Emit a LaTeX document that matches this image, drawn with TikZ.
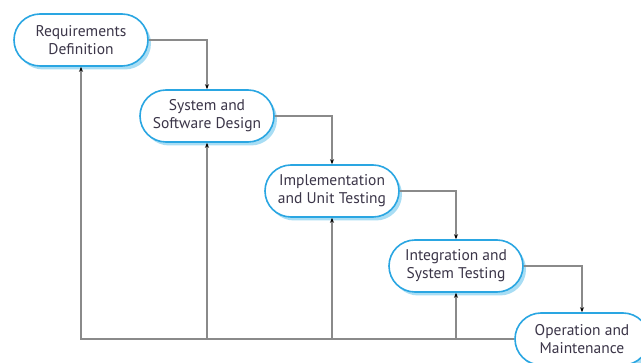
\documentclass[tikz,border=0pt]{standalone}
\usepackage{fontspec}
\setmainfont{PT Sans}
\usetikzlibrary{arrows.meta,shadows}
\definecolor{boxblue}{HTML}{2AA6E2}
\definecolor{shadowblue}{HTML}{A8DDF4}
\definecolor{txt}{HTML}{3B3548}
\definecolor{linegray}{HTML}{8A8A8A}
\tikzset{
  phase/.style={draw=boxblue, line width=1.6pt, fill=white, rounded corners=26pt,
    minimum width=134pt, minimum height=52pt, align=center, text=txt,
    font=\fontsize{15.5pt}{18pt}\selectfont, inner sep=1pt,
    drop shadow={shadow xshift=3pt, shadow yshift=-3.5pt, fill=shadowblue, opacity=1}},
  flow/.style={draw=linegray, line width=1.1pt,
    -{Stealth[length=5pt,width=4pt,color=black]}}
}
\begin{document}
\begin{tikzpicture}[x=1pt,y=-1pt]
\useasboundingbox (0,0) rectangle (641,363);
\node[phase] (b1) at (81,40) {Requirements\\Definition};
\node[phase] (b2) at (207,116) {System and\\Software Design};
\node[phase] (b3) at (332,191) {Implementation\\and Unit Testing};
\node[phase] (b4) at (456,266) {Integration and\\System Testing};
\node[phase] (b5) at (582,339) {Operation and\\Maintenance};
\draw[flow] (b1.east) -| (b2.north);
\draw[flow] (b2.east) -| (b3.north);
\draw[flow] (b3.east) -| (b4.north);
\draw[flow] (b4.east) -| (b5.north);
\draw[flow] (b5.west) -| (b1.south);
\draw[flow] (b2.south |- b5.west) -- (b2.south);
\draw[flow] (b3.south |- b5.west) -- (b3.south);
\draw[flow] (b4.south |- b5.west) -- (b4.south);
\end{tikzpicture}
\end{document}
